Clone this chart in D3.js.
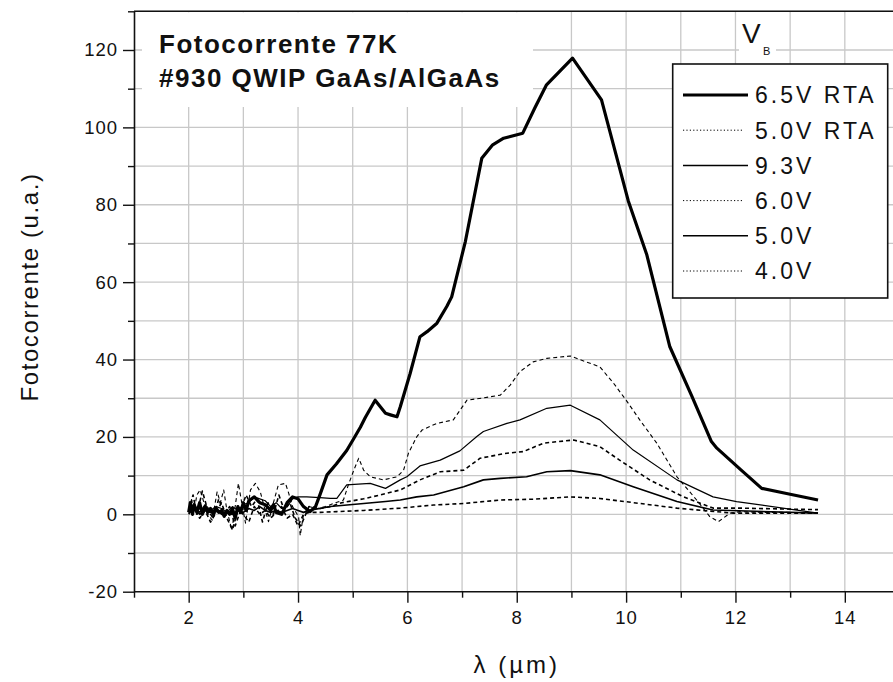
<!DOCTYPE html>
<html><head><meta charset="utf-8">
<script src="https://cdn.jsdelivr.net/npm/d3@7"></script>
<style>body{margin:0;background:#fff}svg{display:block}</style>
</head><body>
<svg id="c" width="893" height="682"></svg>
<script>
// ---------- DATA ----------
const seriesNames = ["6.5V RTA", "5.0V RTA", "9.3V", "6.0V", "5.0V", "4.0V"];
const xTickLabels = [2, 4, 6, 8, 10, 12, 14];
const yTickLabels = [-20, 0, 20, 40, 60, 80, 100, 120];

const lam65RTA = [2.0,2.03,2.07,2.1,2.15,2.2,2.25,2.3,2.35,2.4,2.45,2.5,2.55,2.6,2.65,2.7,2.75,2.8,2.85,2.9,2.95,3.0,3.05,3.1,3.2,3.3,3.4,3.5,3.55,3.6,3.7,3.8,3.9,4.0,4.1,4.22,4.32,4.41,4.53,4.7,4.89,5.02,5.14,5.23,5.41,5.6,5.69,5.81,5.87,6.05,6.23,6.36,6.54,6.72,6.81,7.06,7.36,7.56,7.76,8.11,8.33,8.54,9.02,9.55,10.04,10.38,10.8,11.2,11.56,11.66,12.1,12.48,13.0,13.51];
const val65RTA = [0.5,3,0,2.5,0.5,3,0,2,0.5,1.5,0,1.5,0.5,1,-0.5,1,0,1.5,-1,2,0.5,3,1,3.5,4.5,3,2.5,1,2.5,0.5,0,3,4.5,4,2,0.7,2,5.4,10.2,13,16.5,19.6,22.5,25,29.5,26.1,25.7,25.2,27.8,36.4,45.9,47.2,49.4,53.7,56.2,70.5,92,95.5,97.2,98.5,105,110.9,117.9,107.1,81,67,43.3,30.6,18.8,17.1,11.5,6.7,5.2,3.7];

const lam50RTA = [2.0,2.05,2.1,2.15,2.21,2.3,2.35,2.43,2.52,2.58,2.64,2.7,2.79,2.85,2.91,2.97,3.04,3.13,3.22,3.31,3.38,3.46,3.55,3.64,3.77,3.83,3.9,4.01,4.04,4.1,4.2,4.35,4.5,4.65,4.83,4.92,5.02,5.11,5.2,5.32,5.56,5.81,5.93,6.02,6.17,6.27,6.54,6.84,7.09,7.4,7.7,7.88,8.06,8.3,8.55,8.98,9.52,9.77,10.0,10.25,10.56,10.93,11.29,11.53,11.69,11.9,12.08,12.5,13.0,13.51];
const val50RTA = [0.5,4,1,5,6.3,2,0,-1.5,5.8,3,6.3,1,-4.1,2,8,3,-2.3,6.3,8,5.8,2,-1.9,3,7.6,8,5.4,2,-0.6,-5.5,0,2,1.5,2,2.8,3.7,7.6,11.4,14.5,11.4,9.7,8.9,9.7,11.4,15.8,20,21.8,23.5,24.4,29.5,30.1,30.8,33.4,36.9,39.4,40.3,40.9,38.1,33.9,29.5,24.4,18.4,9.7,3.7,-0.6,-1.9,0.3,0.7,0.5,0.5,0.3];

const lam93 = [2.0,2.1,2.2,2.3,2.4,2.5,2.6,2.7,2.8,2.9,3.0,3.1,3.2,3.3,3.4,3.5,3.6,3.7,3.8,3.9,4.0,4.16,4.4,4.59,4.71,4.89,5.1,5.32,5.6,5.87,5.99,6.23,6.6,6.96,7.27,7.39,7.82,8.06,8.55,8.98,9.52,10.13,10.93,11.59,12.02,13.51];
const val93 = [1,2,0.5,2.5,1,2,1.5,0.5,2,1,2.5,3,4.5,4,3.5,2,3,1.5,2,4,4.5,4.5,4.3,4.1,4.1,7.6,7.8,8,6.7,8.9,9.7,12.5,14,16.4,20.1,21.4,23.5,24.4,27.4,28.2,24.4,16.6,8.9,4.5,3.3,0.3];

const lam60 = [2.0,2.08,2.15,2.25,2.35,2.45,2.55,2.65,2.75,2.85,2.95,3.05,3.15,3.25,3.35,3.45,3.55,3.65,3.75,3.85,3.95,4.05,4.2,4.4,4.6,4.8,5.0,5.2,5.5,5.87,6.23,6.6,7.03,7.33,7.82,8.12,8.49,9.04,9.52,9.88,10.43,11.05,11.59,12.08,13.51];
const val60 = [1,5,0,6,1,-1,4,0,2,-3,1,5,2,4,-2,3,0,5,1,3,-1,-3,2,1.5,2,3,3.5,4,5,6.3,8.9,11,11.4,14.5,15.8,16.2,18.4,19.2,17.5,14,8.9,4.5,1.6,1.6,1.2];

const lam50 = [2.0,2.1,2.2,2.3,2.4,2.5,2.6,2.7,2.8,2.9,3.0,3.1,3.2,3.3,3.4,3.5,3.6,3.7,3.8,3.9,4.0,4.1,4.2,4.4,4.59,5.2,5.6,5.87,6.17,6.48,7.03,7.39,7.7,8.18,8.55,8.98,9.52,10.13,10.93,11.59,13.51];
const val50 = [0.5,1.5,0,1,0.5,1.5,0,1,0,1,0.5,1.5,1,2,1,0.5,1,0.5,1,1.5,1,0.5,1,1.5,2,2.8,3.3,3.7,4.5,5,7.1,8.9,9.3,9.7,11,11.3,10.2,7.1,3.3,1.1,0.3];

const lam40 = [2.0,2.1,2.2,2.3,2.4,2.5,2.6,2.7,2.8,2.9,3.0,3.1,3.2,3.3,3.4,3.5,3.6,3.7,3.8,3.9,4.0,4.1,4.2,4.4,4.71,5.2,5.87,6.48,7.03,7.7,8.3,8.98,9.52,10.93,11.96,13.51];
const val40 = [0,2,-1,1,-2,0.5,3,-1,-4,1,0,-2,2,0,1,-1,0.5,2,-1,0,-3,0,0.5,0.5,0.7,1,1.6,2.4,2.8,3.7,3.9,4.5,4.1,1.6,0.3,0.3];

// ---------- STYLE ----------
const styles = [
  {w: 3.2, dash: null, legDash: null},
  {w: 1.1, dash: "4,3", legDash: "1.2,2.2"},
  {w: 1.2, dash: null, legDash: null},
  {w: 1.6, dash: "4,3", legDash: "1.2,2.2"},
  {w: 1.6, dash: null, legDash: null},
  {w: 1.6, dash: "4,3", legDash: "1.2,2.2"}
];
const seriesData = [
  d3.zip(lam65RTA, val65RTA), d3.zip(lam50RTA, val50RTA), d3.zip(lam93, val93),
  d3.zip(lam60, val60), d3.zip(lam50, val50), d3.zip(lam40, val40)
];

const svg = d3.select("#c");
const font = "'Liberation Sans', Arial, sans-serif";
const x = d3.scaleLinear().domain([1, 15]).range([134, 899.5]);
const y = d3.scaleLinear().domain([-20, 130]).range([591.7, 11.3]);
const X0 = x(1), X1 = 893, Y0 = y(130), Y1 = y(-20);

svg.append("rect").attr("width", 893).attr("height", 682).attr("fill", "#fff");

// gridlines
const grid = svg.append("g").attr("stroke", "#c8c8c8").attr("stroke-width", 1.3);
d3.range(2, 15).forEach(v => grid.append("line").attr("x1", x(v)).attr("x2", x(v)).attr("y1", Y0).attr("y2", Y1));
d3.range(-10, 131, 10).forEach(v => grid.append("line").attr("x1", X0).attr("x2", X1).attr("y1", y(v)).attr("y2", y(v)));

// title background box
svg.append("rect").attr("x", 142).attr("y", Y0 + 1).attr("width", 391).attr("height", 107 - Y0 - 1).attr("fill", "#fff");
// V_B background
svg.append("rect").attr("x", 739).attr("y", 14).attr("width", 37).attr("height", 43).attr("fill", "#fff");

// series
const clip = svg.append("clipPath").attr("id", "clp").append("rect")
  .attr("x", X0).attr("y", Y0).attr("width", X1 - X0).attr("height", Y1 - Y0);
const line = d3.line().x(d => x(d[0])).y(d => y(d[1]));
const gs = svg.append("g").attr("clip-path", "url(#clp)");
seriesData.forEach((dat, i) => {
  gs.append("path").datum(dat).attr("d", line).attr("fill", "none")
    .attr("stroke", "#000").attr("stroke-width", styles[i].w)
    .attr("stroke-linejoin", "round")
    .attr("stroke-dasharray", styles[i].dash);
});

// axes
function styleAxis(g) {
  g.selectAll("path.domain").attr("stroke", "#111").attr("stroke-width", 1.6);
  g.selectAll(".tick line").attr("stroke", "#111").attr("stroke-width", 1.4);
  g.selectAll(".tick text").attr("font-family", font).attr("font-size", 18.5)
    .attr("letter-spacing", 1).attr("fill", "#111");
}
const fmt = d => String(d);
const xMaj = svg.append("g").attr("transform", `translate(0,${Y1})`)
  .call(d3.axisBottom(x).tickValues(xTickLabels).tickFormat(fmt).tickSize(11).tickPadding(8).tickSizeOuter(0));
styleAxis(xMaj);
xMaj.selectAll("path.domain").attr("d", `M${X0},0H${X1}`);
const xMin = svg.append("g").attr("transform", `translate(0,${Y1})`)
  .call(d3.axisBottom(x).tickValues([1, 3, 5, 7, 9, 11, 13]).tickSize(6).tickFormat("").tickSizeOuter(0));
styleAxis(xMin);
xMin.select("path.domain").remove();

const yMaj = svg.append("g").attr("transform", `translate(${X0},0)`)
  .call(d3.axisLeft(y).tickValues(yTickLabels).tickFormat(fmt).tickSize(11).tickPadding(5).tickSizeOuter(0));
styleAxis(yMaj);
const yMin = svg.append("g").attr("transform", `translate(${X0},0)`)
  .call(d3.axisLeft(y).tickValues([-10, 10, 30, 50, 70, 90, 110, 130]).tickSize(6).tickFormat("").tickSizeOuter(0));
styleAxis(yMin);
yMin.select("path.domain").remove();
// top frame
svg.append("line").attr("x1", X0).attr("x2", X1).attr("y1", Y0).attr("y2", Y0)
  .attr("stroke", "#111").attr("stroke-width", 1.6);

// axis titles
svg.append("text").attr("transform", `translate(38,287) rotate(-90)`)
  .attr("text-anchor", "middle").attr("font-family", font).attr("font-size", 24)
  .attr("letter-spacing", 1.6).attr("fill", "#111").text("Fotocorrente (u.a.)");
svg.append("text").attr("x", x(8)).attr("y", 673).attr("text-anchor", "middle")
  .attr("font-family", font).attr("font-size", 24).attr("letter-spacing", 3)
  .attr("fill", "#111").text("λ (µm)");

// chart title
const tt = svg.append("g").attr("font-family", font).attr("font-size", 26)
  .attr("font-weight", "bold").attr("letter-spacing", 1.5).attr("fill", "#111");
tt.append("text").attr("x", 159).attr("y", 53).text("Fotocorrente 77K");
tt.append("text").attr("x", 159).attr("y", 87).text("#930 QWIP GaAs/AlGaAs");

// legend
svg.append("text").attr("x", 742).attr("y", 43).attr("font-family", font).attr("font-size", 28)
  .attr("fill", "#111").text("V");
svg.append("text").attr("x", 763).attr("y", 55).attr("font-family", font).attr("font-size", 11)
  .attr("fill", "#111").text("B");
const leg = svg.append("g");
leg.append("rect").attr("x", 672.7).attr("y", 64).attr("width", 215).attr("height", 234)
  .attr("fill", "#fff").attr("stroke", "#111").attr("stroke-width", 1.6);
seriesNames.forEach((nm, i) => {
  const cy = 95 + i * 35.2;
  leg.append("line").attr("x1", 683).attr("x2", styles[i].legDash ? 743 : 748)
    .attr("y1", cy).attr("y2", cy).attr("stroke", "#000")
    .attr("stroke-width", i === 0 ? 3.2 : (styles[i].legDash ? 1 : 1.5))
    .attr("stroke-dasharray", styles[i].legDash);
  leg.append("text").attr("x", 755).attr("y", cy + 8.3).attr("font-family", font)
    .attr("font-size", 23).attr("letter-spacing", 3).attr("fill", "#111").text(nm);
});
</script>
</body></html>
